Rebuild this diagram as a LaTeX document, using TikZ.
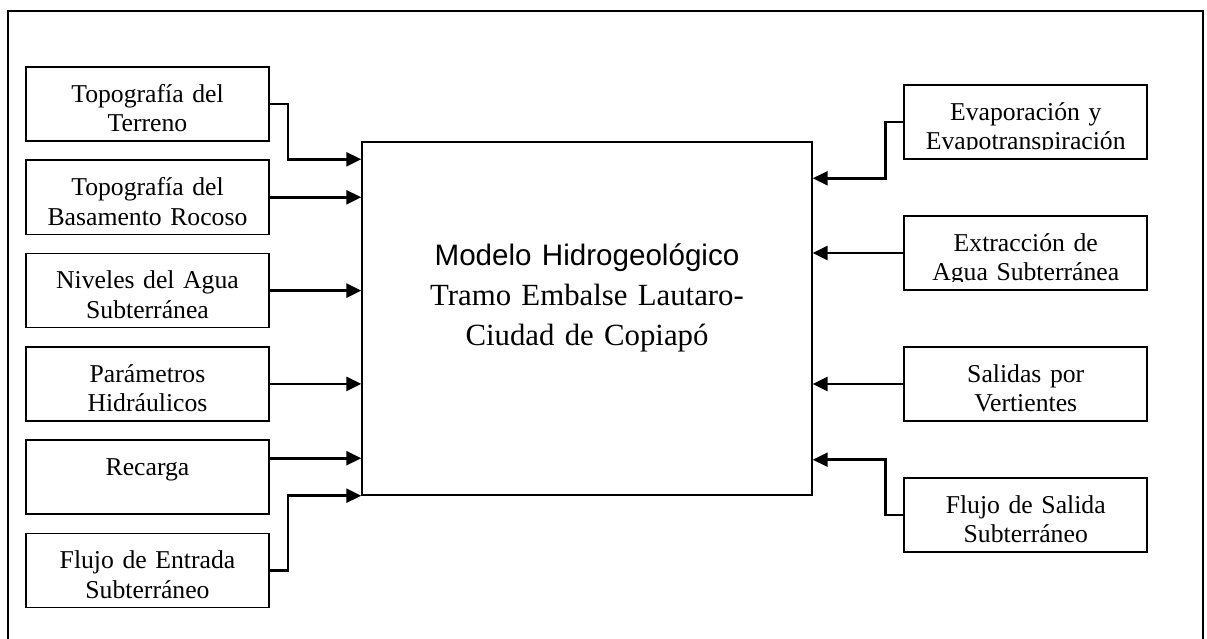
\documentclass[tikz,border=0pt]{standalone}
\usepackage{fontspec}
\setmainfont{Liberation Serif}
\setsansfont{Liberation Sans}
\usetikzlibrary{arrows.meta, positioning}

\begin{document}
\begin{tikzpicture}[
x=1pt, y=-1pt,
node distance=17.7pt,
boxtext/.style={anchor=north,
inner sep=0pt,
minimum width=0pt,
minimum height=0pt,
text width=240pt,
align=center,
text height=34.5pt,
font=\fontsize{25.7}{29.5}\selectfont},
datobox/.style={draw,
rectangle,
line width=1.6pt,
inner sep=0pt,
minimum width=243pt,
minimum height=74pt,
path picture={
\clip ([yshift=9pt]path picture bounding box.south west) rectangle (path picture bounding box.north east);
\node[boxtext] at (path picture bounding box.north) {#1};}},
arrow/.style={-{Triangle[length=15pt, width=14pt]}, line width=2.6pt}
]

\useasboundingbox (0,0) rectangle (1207,639);
\draw[line width=2pt] (8,660) -- (8,11) -- (1203,11) -- (1203,660);

\node[draw, rectangle, line width=1.4pt, inner sep=0pt,
minimum width=450pt, minimum height=353pt,
text width=440pt, align=center, text height=123pt, text depth=230pt,
font=\fontsize{30.8}{40}\selectfont] (model) at (587,318.5)
{{\sffamily\fontsize{29.6}{40}\selectfont Modelo Hidrogeológico}\\ Tramo Embalse Lautaro-\\ Ciudad de Copiapó};

\node[datobox={Topografía del\\Terreno}] (terreno) at (147.5,104) {};
\node[datobox={Topografía del\\Basamento Rocoso}, below=of terreno] (basamento) {};
\node[datobox={Niveles del Agua\\Subterránea}, below=of basamento] (niveles) {};
\node[datobox={Parámetros\\Hidráulicos}, below=of niveles] (parametros) {};
\node[datobox={Recarga}, below=of parametros] (recarga) {};
\node[datobox={Flujo de Entrada\\Subterráneo}, below=of recarga] (entrada) {};

\node[datobox={Evaporación y\\Evapotranspiración}] (evaporacion) at (1025.75,122) {};
\node[datobox={Extracción de\\Agua Subterránea}, below=55.4pt of evaporacion] (extraccion) {};
\node[datobox={Salidas por\\Vertientes}, below=55.4pt of extraccion] (vertientes) {};
\node[datobox={Flujo de Salida\\Subterráneo}, below=55.4pt of vertientes] (salida) {};

\draw[arrow] (terreno.east) -- ++(18,0) |- ([yshift=-18pt]model.north west);
\draw[arrow] (basamento.east) -- (model.west |- basamento.east);
\draw[arrow] (niveles.east) -- (model.west |- niveles.east);
\draw[arrow] (parametros.east) -- (model.west |- parametros.east);
\draw[arrow] ([yshift=19pt]recarga.east) -- ([yshift=19pt]model.west |- recarga.east);
\draw[arrow] (entrada.east) -- ++(18,0) |- (model.south west);

\draw[arrow] (evaporacion.west) -- ++(-18,0) |- ([yshift=-37pt]model.north east);
\draw[arrow] (extraccion.west) -- (model.east |- extraccion.west);
\draw[arrow] (vertientes.west) -- (model.east |- vertientes.west);
\draw[arrow] (salida.west) -- ++(-18,0) |- ([yshift=36pt]model.south east);

\end{tikzpicture}
\end{document}
